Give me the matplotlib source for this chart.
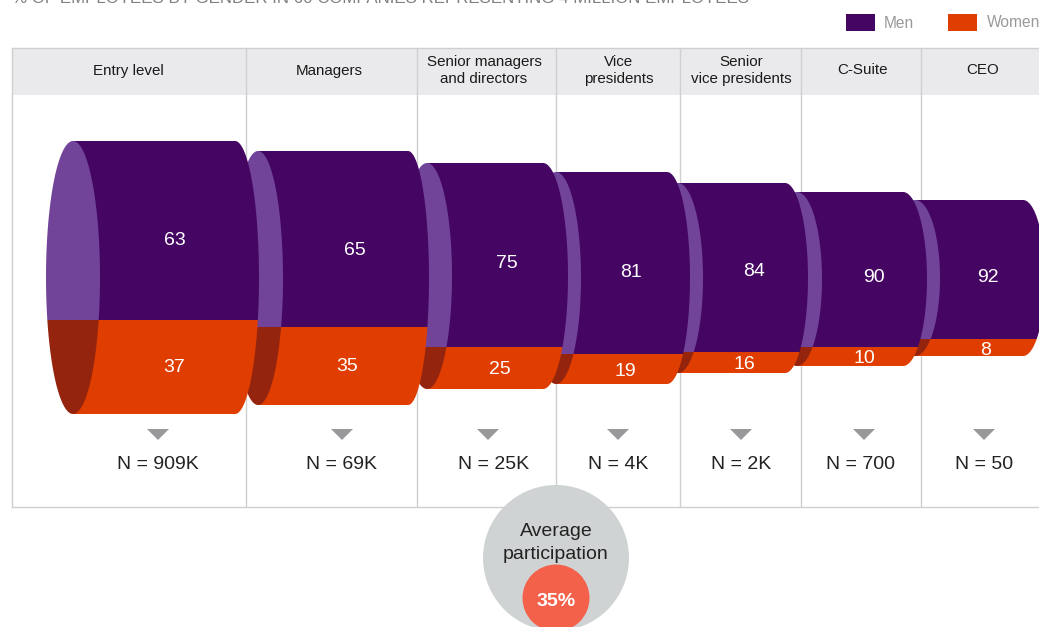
import numpy as np
import matplotlib
matplotlib.use("Agg")
from matplotlib import pyplot as plt
from matplotlib.patches import Polygon, Rectangle, Circle

plt.rcParams['font.family'] = ['Liberation Sans', 'DejaVu Sans']

stages = ["Entry level", "Managers", "Senior managers\nand directors", "Vice\npresidents",
          "Senior\nvice presidents", "C-Suite", "CEO"]
men = [63, 65, 75, 81, 84, 90, 92]
women = [37, 35, 25, 19, 16, 10, 8]
n_labels = ["N = 909K", "N = 69K", "N = 25K", "N = 4K", "N = 2K", "N = 700", "N = 50"]
# drawn height of each segment in pixels
men_height = [179, 176, 184, 182, 169, 155, 139]
women_height = [94, 78, 42, 30, 21, 19, 17]

# layout, all in pixels of the 1039x627 image
col_edges = [12, 246, 417, 556, 680, 801, 921]
header_x = [128, 329, 484, 619, 741, 862, 983]
tops = [141, 151, 163, 172, 183, 192, 200]
face_x = [73, 258, 427, 556, 678, 797, 915]
face_w = [27, 25, 25, 25, 25, 25, 25]
end_x = [235, 408, 543, 667, 785, 903, 1023]
end_w = [24, 21, 25, 23, 23, 24, 22]
men_label = [(175, 239), (355, 249), (507, 262), (631, 271), (754, 270), (874, 276), (988, 276)]
women_label = [(174, 366), (347, 365), (500, 368), (625, 370), (744, 363), (864, 357), (986, 349)]
arrow_x = [158, 342, 488, 618, 741, 864, 984]
n_x = [158, 342, 494, 618, 741, 860, 984]

PURPLE = '#450663'
LIGHT_PURPLE = '#71449A'
ORANGE = '#E03E00'
DARK_RED = '#94240E'
LINE = '#CFCFD1'

fig = plt.figure(figsize=(10.39, 6.27), dpi=100)
ax = fig.add_axes([0, 0, 1, 1])
ax.set_xlim(0, 1039)
ax.set_ylim(627, 0)
ax.axis('off')


def twoTone(verts, top, split, bottom, colTop, colBottom, z):
    """draws one outline twice, clipped above and below the split"""
    for y0, y1, col in [(top - 1, split, colTop), (split, bottom + 1, colBottom)]:
        shape = Polygon(verts, closed=True, fc=col, ec='none', zorder=z)
        ax.add_patch(shape)
        clip = Rectangle((0, y0), 1039, y1 - y0, transform=ax.transData)
        shape.set_clip_path(clip)


# header band and column lines
ax.add_patch(Rectangle((12, 48), 1027, 47, fc='#EAEAEC', ec='none', zorder=1))
ax.plot([12, 1039], [48, 48], color=LINE, lw=1, zorder=2)
ax.plot([12, 1039], [507, 507], color=LINE, lw=1, zorder=2)
for x in col_edges:
    ax.plot([x, x], [48, 507], color=LINE, lw=1, zorder=2)

# cylinders, right to left because each one sits on top of the next
theta = np.linspace(0, 2 * np.pi, 200)
half = np.linspace(-np.pi / 2, np.pi / 2, 100)
for i in range(len(stages) - 1, -1, -1):
    total = men_height[i] + women_height[i]
    top = tops[i]
    bottom = top + total
    mid_y = top + total / 2
    split = top + men_height[i]
    z = 10 + (len(stages) - i) * 2

    # body with rounded right end, the flat left side is hidden by the face
    ex = end_x[i] + end_w[i] * np.cos(half)
    ey = mid_y + total / 2 * np.sin(half)
    body = np.column_stack([np.r_[face_x[i], ex, face_x[i]], np.r_[top, ey, bottom]])
    twoTone(body, top, split, bottom, PURPLE, ORANGE, z)

    # lighter front face
    fx = face_x[i] + face_w[i] * np.cos(theta)
    fy = mid_y + total / 2 * np.sin(theta)
    twoTone(np.column_stack([fx, fy]), top, split, bottom, LIGHT_PURPLE, DARK_RED, z + 1)

for i in range(len(stages)):
    ax.text(header_x[i], 70.5, stages[i], ha='center', va='center',
            fontsize=10.9, color='#1a1a1a', linespacing=1.3, zorder=30)
    ax.text(men_label[i][0], men_label[i][1] + 1.5, str(men[i]), ha='center', va='center',
            fontsize=14, color='white', zorder=30)
    ax.text(women_label[i][0], women_label[i][1] + 1.5, str(women[i]), ha='center', va='center',
            fontsize=14, color='white', zorder=30)
    ax.add_patch(Polygon([(arrow_x[i] - 11, 429), (arrow_x[i] + 11, 429), (arrow_x[i], 440)],
                         closed=True, fc='#99999B', ec='none', zorder=5))
    ax.text(n_x[i], 464.5, n_labels[i], ha='center', va='center', fontsize=14, color='#222222', zorder=5)

# legend and the subtitle, which the reference crops at its top edge
ax.add_patch(Rectangle((846, 14), 29, 17, fc=PURPLE, ec='none'))
ax.text(884, 23, "Men", ha='left', va='center', fontsize=11.2, color='#999999')
ax.add_patch(Rectangle((948, 14), 29, 17, fc=ORANGE, ec='none'))
ax.text(987, 22.5, "Women", ha='left', va='center', fontsize=11.2, color='#999999')
ax.text(12, 3, "% OF EMPLOYEES BY GENDER IN 60 COMPANIES REPRESENTING 4 MILLION EMPLOYEES",
        ha='left', va='baseline', fontsize=12.15, color='#808080', clip_on=False)

# average bubble
ax.add_patch(Circle((556, 558), 73, fc='#D0D3D4', ec='none', zorder=6))
ax.add_patch(Circle((556, 598), 33.5, fc='#F4614A', ec='none', zorder=7))
ax.text(556, 531, "Average", ha='center', va='center', fontsize=14, color='#222222', zorder=8)
ax.text(556, 554.5, "participation", ha='center', va='center', fontsize=14, color='#222222', zorder=8)
ax.text(556, 601.5, "35%", ha='center', va='center', fontsize=14, fontweight='bold', color='white', zorder=8)

fig.savefig('out.png', dpi=100)
